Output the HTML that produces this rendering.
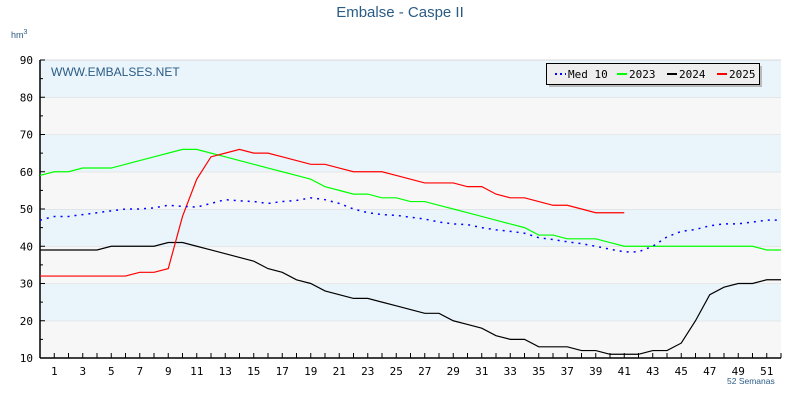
<!DOCTYPE html>
<html><head><meta charset="utf-8"><style>
body{margin:0;background:#fff}
svg{display:block}
text{font-family:"DejaVu Sans Mono","Liberation Mono",monospace}
</style></head><body>
<svg id="chart" width="800" height="418" viewBox="0 0 800 418" xmlns="http://www.w3.org/2000/svg">
<g id="bands"></g>
<text x="400" y="17" text-anchor="middle" fill="#2a5b85" font-size="15" style="font-family:'Liberation Sans',sans-serif">Embalse - Caspe II</text>
<text x="11" y="38" fill="#2a5b85" font-size="9" style="font-family:'Liberation Sans',sans-serif">hm<tspan dy="-4" font-size="7">3</tspan></text>
<text x="51" y="76" fill="#2a5b85" font-size="12" style="font-family:'Liberation Sans',sans-serif">WWW.EMBALSES.NET</text>
<text x="727" y="384" fill="#2a5b85" font-size="8.5" style="font-family:'Liberation Sans',sans-serif">52 Semanas</text>
<g id="axes"></g>
<g id="series"></g>
<g>
<rect x="549" y="66" width="213" height="21" fill="#bbb"/>
<rect x="546.5" y="63.5" width="213" height="21" fill="#eee" stroke="#000" stroke-width="1"/>
<line x1="555" y1="74" x2="566" y2="74" stroke="#00f" stroke-width="2" stroke-dasharray="2,3"/>
<text x="568" y="78" font-size="11">Med 10</text>
<line x1="617" y1="74" x2="627" y2="74" stroke="#0f0" stroke-width="2"/>
<text x="629" y="78" font-size="11">2023</text>
<line x1="667" y1="74" x2="677" y2="74" stroke="#000" stroke-width="2"/>
<text x="679" y="78" font-size="11">2024</text>
<line x1="717" y1="74" x2="727" y2="74" stroke="#f00" stroke-width="2"/>
<text x="729" y="78" font-size="11">2025</text>
</g>
</svg>
<script>
const yTicks=[10,20,30,40,50,60,70,80,90];
const xLabels=[1,3,5,7,9,11,13,15,17,19,21,23,25,27,29,31,33,35,37,39,41,43,45,47,49,51];
const med10=[47,48,48,48.5,49,49.5,50,50,50.3,51,50.7,50.5,51.5,52.5,52.2,52,51.5,52,52.3,53,52.5,51.5,50,49,48.5,48.3,47.8,47.3,46.5,46,45.8,45,44.4,44,43.5,42.3,41.8,41.2,40.7,40,39.2,38.5,38.5,40,42.5,44,44.5,45.5,46,46,46.5,47,47];
const s2023=[59,60,60,61,61,61,62,63,64,65,66,66,65,64,63,62,61,60,59,58,56,55,54,54,53,53,52,52,51,50,49,48,47,46,45,43,43,42,42,42,41,40,40,40,40,40,40,40,40,40,40,39,39];
const s2024=[39,39,39,39,39,40,40,40,40,41,41,40,39,38,37,36,34,33,31,30,28,27,26,26,25,24,23,22,22,20,19,18,16,15,15,13,13,13,12,12,11,11,11,12,12,14,20,27,29,30,30,31,31];
const s2025=[32,32,32,32,32,32,32,33,33,34,48,58,64,65,66,65,65,64,63,62,62,61,60,60,60,59,58,57,57,57,56,56,54,53,53,52,51,51,50,49,49,49];
const X0=40,X1=781,Y0=358,Y1=60,NW=52;
const xs=i=>X0+i*(X1-X0)/NW;
const ys=v=>Y0-(v-10)*(Y0-Y1)/80;
const NS="http://www.w3.org/2000/svg";
function mk(t,a,p){const e=document.createElementNS(NS,t);for(const k in a)e.setAttribute(k,a[k]);p.appendChild(e);return e;}
const bands=document.getElementById('bands'),axes=document.getElementById('axes'),series=document.getElementById('series');
for(let k=0;k<yTicks.length-1;k++){
  const lo=yTicks[k],hi=yTicks[k+1];
  const r=mk('rect',{x:X0,y:ys(hi),width:X1-X0,height:ys(lo)-ys(hi),fill:(k%2?'#eaf5fb':'#f7f7f7')},bands);
  
  
  const g=mk('line',{x1:X0,x2:X1,y1:ys(hi),y2:ys(hi),stroke:'#d8d8d8','stroke-width':1},bands);
  
  
}
yTicks.forEach(v=>{
  const t=mk('text',{x:X0-7,y:ys(v)+4,'text-anchor':'end','font-size':11},axes);t.textContent=v;
  
  
  mk('line',{x1:X0,x2:X0+5,y1:ys(v),y2:ys(v),stroke:'#000'},axes);
  if(v<90)mk('line',{x1:X0,x2:X0+3,y1:ys(v+5),y2:ys(v+5),stroke:'#000'},axes);
});
for(let i=1;i<=NW;i++)mk('line',{x1:xs(i),x2:xs(i),y1:Y0,y2:Y0-5,stroke:'#000'},axes);
xLabels.forEach(w=>{
  const t=mk('text',{x:xs(w),y:Y0+17,'text-anchor':'middle','font-size':11},axes);t.textContent=w;
  
  
});
mk('line',{x1:X0,x2:X0,y1:Y1,y2:Y0,stroke:'#000','stroke-width':1.5},axes);
mk('line',{x1:X0,x2:X1,y1:Y0,y2:Y0,stroke:'#000','stroke-width':1.5},axes);
function line(d,c,dash,name){
  const p=mk('polyline',{points:d.map((v,i)=>xs(i)+','+ys(v)).join(' '),fill:'none',stroke:c,'stroke-width':dash?1.5:1.2},series);
  if(dash)p.setAttribute('stroke-dasharray',dash);
  
  
}
line(s2023,'#00ff00',null,'series-2023');
line(s2024,'#000000',null,'series-2024');
line(s2025,'#ff0000',null,'series-2025');
line(med10,'#0000ff','2,5','series-med10');
</script>
</body></html>
